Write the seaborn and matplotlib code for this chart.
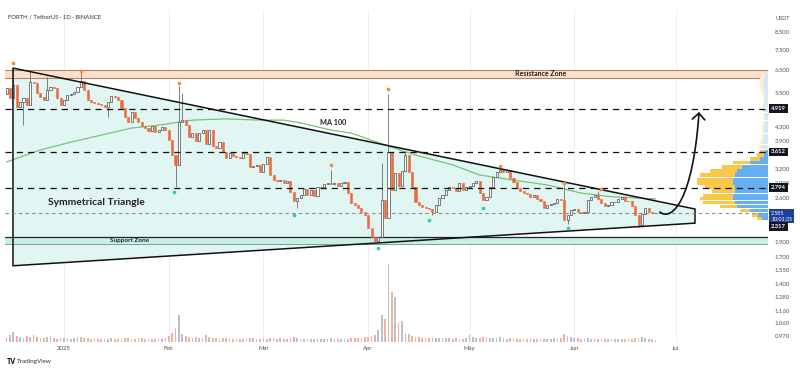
import numpy as np
import matplotlib
matplotlib.use("Agg")
import matplotlib.pyplot as plt
import matplotlib.ticker as mticker
from matplotlib.patches import Polygon, FancyArrowPatch
from matplotlib.path import Path
import seaborn as sns

# ---------------- data ----------------
first_day = -17            # 15 Dec 2024, days counted from 1 Jan 2025
first_open = 5.46
closes = [
    5.70, 5.31, 5.82, 4.98, 5.16, 5.31, 5.05, 5.94, 5.90, 5.50, 5.34, 5.23, 5.62, 5.74, 5.70, 5.31, 5.05,
    5.23, 5.42, 5.46, 5.54, 5.74, 5.99, 5.62, 5.23, 5.16, 5.12, 5.08, 5.05, 4.98, 5.16, 5.38, 5.34,
    5.23, 4.94, 4.63, 4.47, 4.80, 4.60, 4.47, 4.34, 4.28, 4.19, 4.34, 4.16, 4.22, 4.31, 4.22,
    3.93, 3.53, 3.29, 4.47, 4.53, 4.37, 4.01, 4.13, 3.90, 4.13,
    4.22, 3.82, 4.22, 3.77, 3.71, 3.87, 3.61, 3.46, 3.58, 3.51, 3.48, 3.46, 3.58, 3.56, 3.24, 3.27, 3.29, 3.13, 3.31, 3.48,
    3.06, 2.95, 2.93, 2.95, 2.89, 2.93, 2.71, 2.54, 2.60, 2.65, 2.77, 2.65, 2.75, 2.63, 2.81, 2.81, 2.87, 2.89, 2.87, 2.89,
    2.83, 2.89, 2.91, 2.69, 2.51, 2.47, 2.42, 2.35, 2.30, 2.10,
    1.97, 1.91, 1.96, 2.56, 2.25, 3.61, 2.75, 3.11, 2.83, 3.15,
    3.53, 3.13, 2.81, 2.52, 2.47, 2.44, 2.42, 2.40, 2.35, 2.47,
    2.60, 2.65, 2.75, 2.81, 2.79, 2.73, 2.89, 2.75, 2.81, 2.83,
    2.89, 2.93, 2.69, 2.56, 2.62, 2.81, 3.02, 3.13, 3.17, 3.13,
    3.17, 2.99, 2.91, 2.79, 2.73, 2.69, 2.67, 2.62, 2.65, 2.58,
    2.54, 2.42, 2.47, 2.49, 2.51, 2.58, 2.56, 2.22, 2.30, 2.38,
    2.40, 2.35, 2.33, 2.35, 2.56, 2.62, 2.65, 2.58, 2.51, 2.45,
    2.47, 2.52, 2.52, 2.58, 2.62, 2.54, 2.54, 2.45, 2.30, 2.14,
    2.32, 2.42, 2.35, 2.33, 2.33,
]
wick_highs = {-15: 6.62, -10: 6.39, -5: 6.16, 5: 6.34, 34: 5.78, 35: 5.50, 79: 3.17,
              94: 3.34, 96: 5.46, 101: 3.61, 129: 3.22, 148: 2.85, 158: 2.73}
wick_lows = {-12: 4.37, 13: 4.63, 33: 2.81, 69: 2.42, 93: 1.88, 109: 2.30, 149: 2.16, 170: 2.11}

volumes = [
    50, 70, 100, 60, 55, 45, 60, 50, 70, 55, 40, 45, 50, 60, 40, 35, 45,
    45, 40, 35, 40, 50, 55, 45, 40, 35, 30, 30, 35, 30, 35, 40, 30, 30, 35, 40, 45, 35, 30, 40, 45, 35, 30, 35, 30, 30, 35, 40,
    60, 90, 140, 270, 80, 60, 50, 45, 55, 40,
    45, 70, 50, 40, 45, 35, 40, 45, 35, 30, 30, 35, 30, 30, 45, 40, 30, 35, 40, 35,
    45, 40, 35, 40, 35, 30, 45, 50, 40, 35, 35, 30, 35, 30, 35, 30, 30, 35, 45, 30, 30, 35, 30, 30, 40, 45, 40, 40, 50, 55,
    60, 70, 120, 270, 230, 780, 500, 450, 190, 210,
    90, 80, 60, 55, 50, 45, 40, 45, 50, 45, 40, 40, 45, 40, 35, 40, 35, 35, 40, 70,
    50, 40, 45, 55, 50, 45, 40, 45, 50, 40, 35, 40, 35, 30, 35, 30, 35, 30, 30, 35, 30, 35, 30, 30, 40, 35, 45, 80, 60, 50,
    45, 40, 35, 35, 40, 35, 30, 35, 30, 30, 35, 30, 30, 35, 30, 30, 35, 35, 40, 45, 50, 40, 35, 30, 25,
]

ma_days = [-17, -7, 2, 11, 20, 28, 38, 48, 58, 65, 70, 79, 85, 96, 104, 115, 123, 133, 143, 153, 162, 175]
ma_vals = [3.36, 3.66, 3.87, 4.07, 4.28, 4.37, 4.53, 4.57, 4.53, 4.53, 4.44, 4.22, 4.13, 3.76, 3.53,
           3.29, 3.06, 2.95, 2.85, 2.69, 2.62, 2.58]

pivot_high_days = [-15, 5, 34, 79, 96, 129, 148, 159]
pivot_high_vals = [6.81, 6.43, 5.90, 3.29, 5.66, 3.26, 2.89, 2.77]
pivot_low_days = [32.5, 68, 93, 108, 124, 149]
pivot_low_vals = [2.71, 2.30, 1.82, 2.22, 2.42, 2.10]

prof_prices = [3.63, 3.53, 3.43, 3.34, 3.24, 3.15, 3.06, 2.97, 2.89, 2.81, 2.73, 2.65, 2.58, 2.51, 2.44, 2.37, 2.30, 2.24]
prof_up = [3, 4, 8, 18, 26, 31, 33, 35, 35, 33, 33, 35, 35, 33, 31, 18, 10, 6]
prof_down = [5, 7, 10, 17, 20, 27, 35, 36, 36, 30, 23, 30, 33, 32, 17, 10, 6, 5]
faint_prices = [6.25, 6.08, 5.91, 5.74, 5.58, 5.42, 5.27, 5.12, 4.98, 4.84, 4.70, 4.57, 4.44, 4.31, 4.19,
                4.07, 3.96, 3.85, 3.74]
faint_up = [3, 4, 5, 4, 4, 3, 3, 3, 4, 4, 3, 3, 3, 4, 4, 4, 5, 5, 6]
faint_down = [3, 4, 4, 4, 3, 3, 2, 2, 2, 2, 2, 2, 2, 2, 2, 3, 2, 3, 3]

month_days = [0, 31, 59, 90, 120, 151, 181]
month_labels = ["2025", "Feb", "Mar", "Apr", "May", "Jun", "Jul"]

tick_vals = [8.5, 7.5, 6.5, 5.5, 4.3, 3.9, 3.2, 2.9, 2.6, 1.9, 1.7, 1.55, 1.4, 1.28, 1.16, 1.06, 0.97]
tick_labels = ["8.500", "7.500", "6.500", "5.500", "4.300", "3.900", "3.200", "2.900", "2.600",
               "1.900", "1.700", "1.550", "1.400", "1.280", "1.160", "1.060", "0.970"]

levels = [4.919, 3.612, 2.794]
level_labels = ["4.919", "3.612", "2.794"]
resistance_zone = (6.12, 6.48)
support_zone = (1.865, 1.97)

# ---------------- figure ----------------
sns.set_theme(style="white")
plt.rcParams['font.family'] = ['Lato', 'DejaVu Sans']

fig = plt.figure(figsize=(8, 3.7), dpi=100)
fig.patch.set_facecolor('white')
ax = fig.add_axes([5 / 800, 28 / 370, 763 / 800, 332 / 370])
ax.set_yscale('log')
ax.set_facecolor('white')

for d in month_days:
    ax.axvline(d, color='#eeeeee', lw=0.7, zorder=0)

days = np.arange(first_day, first_day + len(closes))
opens = [first_open] + closes[:-1]
highs = [wick_highs.get(d, max(o, c)) for d, o, c in zip(days, opens, closes)]
lows = [wick_lows.get(d, min(o, c)) for d, o, c in zip(days, opens, closes)]
is_up = np.array([c >= o for o, c in zip(opens, closes)])

# volume histogram (bottom, axes-fraction heights)
vol_scale = 3320.0
vcols = ['#b7c2c9' if u else '#f2b0a4' for u in is_up]
ax.bar(days, np.array(volumes) / vol_scale, bottom=0, width=0.5, color=vcols,
       linewidth=0, transform=ax.get_xaxis_transform(), zorder=1)

# triangle
tri = [(-15.1, 6.57), (186.7, 2.40), (186.7, 2.17), (-15.1, 1.60)]
ax.add_patch(Polygon(tri, closed=True, facecolor='#e1f6f2', edgecolor='none', zorder=1))
ax.add_patch(Polygon(tri, closed=True, facecolor='none', edgecolor='#111111', lw=1.1, zorder=5))

# zones
ax.axhspan(*resistance_zone, facecolor='#fce0c9', edgecolor='none', zorder=1.5)
for v in resistance_zone:
    ax.axhline(v, color='#b38466', lw=0.8, zorder=1.6)
ax.axhspan(*support_zone, facecolor='#c7efe8', edgecolor='none', zorder=1.5)
ax.axhline(support_zone[1], color='#222222', lw=0.9, zorder=1.6)
ax.axhline(support_zone[0], color='#6f8f8a', lw=0.6, zorder=1.6)

# volume profile (right side)
pw = 763.0
fac = np.exp(1.6 / 140)
pp = np.array(prof_prices)
ax.barh(pp / fac, -np.array(prof_up) / pw, left=1.0, height=pp * fac - pp / fac, align='edge',
        color='#64b0f2', linewidth=0, transform=ax.get_yaxis_transform(), zorder=2)
ax.barh(pp / fac, -np.array(prof_down) / pw, left=1.0 - np.array(prof_up) / pw,
        height=pp * fac - pp / fac, align='edge', color='#f9c74a', linewidth=0,
        transform=ax.get_yaxis_transform(), zorder=2)
fp = np.array(faint_prices)
ax.barh(fp / fac, -np.array(faint_up) / pw, left=1.0, height=fp * fac - fp / fac, align='edge',
        color='#d6e8f8', linewidth=0, transform=ax.get_yaxis_transform(), zorder=2)
ax.barh(fp / fac, -np.array(faint_down) / pw, left=1.0 - np.array(faint_up) / pw,
        height=fp * fac - fp / fac, align='edge', color='#fcefd0', linewidth=0,
        transform=ax.get_yaxis_transform(), zorder=2)

# key horizontal levels
for v in levels:
    ax.axhline(v, color='#111111', lw=0.9, dashes=(5, 4), zorder=5)
ax.axhline(closes[-1], color='#8a8a8a', lw=0.8, dashes=(3, 3), zorder=5)

# MA 100
sns.lineplot(x=ma_days, y=ma_vals, ax=ax, color='#77c27c', lw=0.9, zorder=3, sort=False, legend=False)

# candles
ax.vlines(days, lows, highs, color='#6b6b6b', lw=0.6, zorder=3.5)
bott = np.minimum(opens, closes)
hgt = np.abs(np.array(closes) - np.array(opens))
ax.bar(days[is_up], hgt[is_up], bottom=bott[is_up], width=0.62, facecolor='white',
       edgecolor='#4a4a4a', linewidth=0.5, zorder=4)
ax.bar(days[~is_up], hgt[~is_up], bottom=bott[~is_up], width=0.62, facecolor='#ee6a3a',
       edgecolor='#ee6a3a', linewidth=0.4, zorder=4)

# pivot dots
sns.scatterplot(x=pivot_high_days, y=pivot_high_vals, ax=ax, color='#f28a45', s=7, linewidth=0,
                zorder=6, legend=False)
sns.scatterplot(x=pivot_low_days, y=pivot_low_vals, ax=ax, color='#35c9b3', s=7, linewidth=0,
                zorder=6, legend=False)

# breakout arrow
verts = [(176.3, 2.35), (179.9, 2.19), (186.1, 2.56), (187.9, 4.80)]
codes = [Path.MOVETO, Path.CURVE4, Path.CURVE4, Path.CURVE4]
ax.add_patch(FancyArrowPatch(path=Path(verts, codes), arrowstyle='->,head_length=0.45,head_width=0.45',
                             mutation_scale=10, lw=1.2, color='#111111', zorder=7))

# annotations
ax.text(141, 6.30, "Resistance Zone", ha='center', va='center', fontsize=5, fontweight='bold',
        color='#222222', zorder=8)
ax.text(19.5, 1.915, "Support Zone", ha='center', va='center', fontsize=4.6, fontweight='bold',
        color='#222222', zorder=8)
ax.text(79.6, 4.44, "MA 100", ha='center', va='center', fontsize=5.2, fontweight='bold',
        color='#222222', zorder=8)
ax.text(9.5, 2.52, "Symmetrical Triangle", ha='center', va='center', fontsize=7.4, fontweight='bold',
        color='#222222', zorder=8)

# axes / ticks
ax.set_xlim(-17.46, 208.3)
ax.set_ylim(0.928, 9.95)
ax.set_xlabel('')
ax.set_ylabel('')
for s in ax.spines.values():
    s.set_visible(False)
ax.yaxis.tick_right()
ax.set_yticks(tick_vals)
ax.set_yticklabels(tick_labels)
ax.yaxis.set_minor_locator(mticker.NullLocator())
ax.yaxis.set_minor_formatter(mticker.NullFormatter())
ax.tick_params(axis='y', length=0, pad=5, labelsize=4.3, labelcolor='#555555')
ax.set_xticks(month_days)
ax.set_xticklabels(month_labels)
ax.tick_params(axis='x', length=0, pad=3, labelsize=4.3, labelcolor='#555555')

# price boxes on the axis
ytr = ax.get_yaxis_transform()
for v, t in zip(levels, level_labels):
    ax.text(1.004, v, t, transform=ytr, ha='left', va='center', fontsize=4.2, color='white',
            fontweight='bold', bbox=dict(boxstyle='square,pad=0.3', fc='#131722', ec='none'),
            clip_on=False, zorder=9)
ax.text(1.004, 2.28, "2.585\n10:01:35", transform=ytr, ha='left', va='center', fontsize=3.8,
        color='white', linespacing=1.15, bbox=dict(boxstyle='square,pad=0.3', fc='#1f3f9c', ec='none'),
        clip_on=False, zorder=9)
ax.text(1.004, 2.12, "2.317", transform=ytr, ha='left', va='center', fontsize=4.2, color='white',
        fontweight='bold', bbox=dict(boxstyle='square,pad=0.3', fc='#131722', ec='none'),
        clip_on=False, zorder=9)

fig.text(8 / 800, 1 - 17 / 370, "FORTH / TetherUS · 1D · BINANCE", fontsize=4.3, color='#333333',
         va='center', ha='left')
fig.text(776 / 800, 1 - 18 / 370, "USDT", fontsize=4, color='#555555', va='center', ha='left')
fig.text(7 / 800, 1 - 362 / 370, "TV", fontsize=5, fontweight='heavy', color='#131722', va='center')
fig.text(17 / 800, 1 - 362 / 370, "TradingView", fontsize=4.5, color='#333333', va='center')

fig.savefig("out.png", dpi=100, facecolor='white')
